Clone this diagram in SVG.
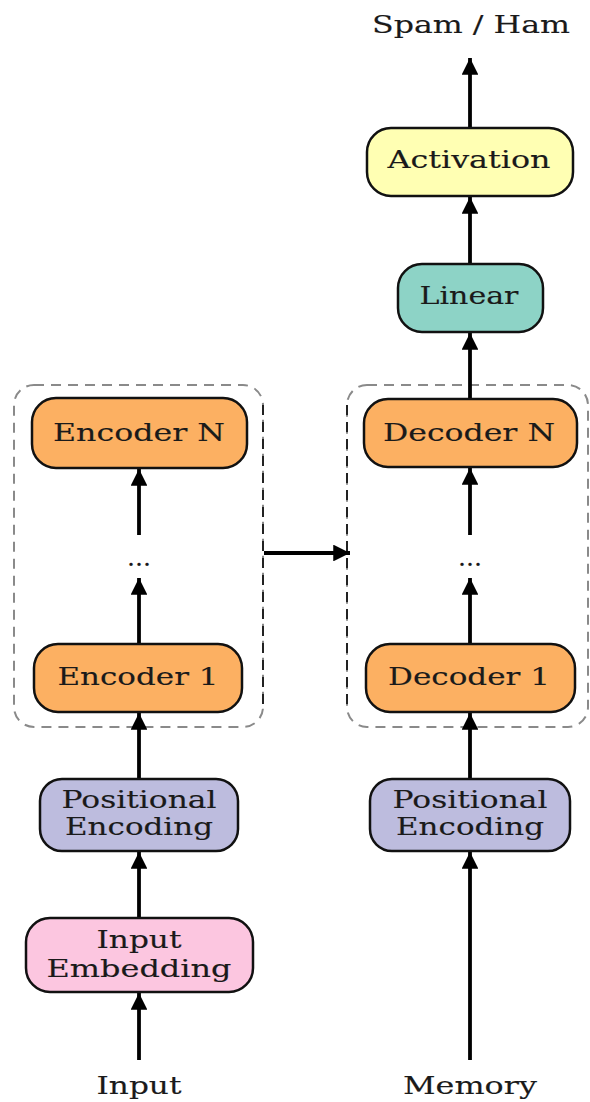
<svg xmlns="http://www.w3.org/2000/svg" width="590" height="1102" viewBox="0 0 590 1102">
<style>
.box{stroke:#111;stroke-width:2.5}
.t{font-family:"DejaVu Serif","Liberation Serif",serif;font-size:25px;fill:#1a1a1a;stroke:#1a1a1a;stroke-width:0.15;text-anchor:middle}
.e{stroke:#000;stroke-width:3.8;fill:none}
.cl{fill:none;stroke:#8a8a8a;stroke-width:2;stroke-dasharray:10 7}
.cr{stroke:#222;stroke-width:2;stroke-dasharray:10 7}
</style>
<defs>
<marker id="ah" viewBox="0 0 10 10" refX="10" refY="5" markerWidth="5.2" markerHeight="4.4" orient="auto" markerUnits="strokeWidth">
<path d="M0,0 L10,5 L0,10 z" fill="#000"/>
</marker>
</defs>
<rect width="590" height="1102" fill="#fff"/>
<g id="clusters">
<rect id="encoder-stack" class="cl" x="14" y="385" width="249" height="342" rx="20"/>
<line class="cr" x1="263" y1="405" x2="263" y2="707"/>
<rect id="decoder-stack" class="cl" x="347" y="385" width="241" height="342" rx="20"/>
<line class="cr" x1="347" y1="405" x2="347" y2="707"/>
</g>
<g id="connectors">
<line class="e" x1="139" y1="1060" x2="139" y2="993" marker-end="url(#ah)"/>
<line class="e" x1="139" y1="918" x2="139" y2="852" marker-end="url(#ah)"/>
<line class="e" x1="139" y1="779" x2="139" y2="713" marker-end="url(#ah)"/>
<line class="e" x1="139" y1="644" x2="139" y2="578" marker-end="url(#ah)"/>
<line class="e" x1="139" y1="535" x2="139" y2="469" marker-end="url(#ah)"/>
<line class="e" x1="470" y1="1060" x2="470" y2="852" marker-end="url(#ah)"/>
<line class="e" x1="470" y1="779" x2="470" y2="713" marker-end="url(#ah)"/>
<line class="e" x1="470" y1="644" x2="470" y2="578" marker-end="url(#ah)"/>
<line class="e" x1="470" y1="535" x2="470" y2="468" marker-end="url(#ah)"/>
<line class="e" x1="470" y1="400" x2="470" y2="333" marker-end="url(#ah)"/>
<line class="e" x1="470" y1="264" x2="470" y2="197" marker-end="url(#ah)"/>
<line class="e" x1="470" y1="128" x2="470" y2="58" marker-end="url(#ah)"/>
<line class="e" x1="264" y1="553" x2="350" y2="553" marker-end="url(#ah)"/>
</g>
<g id="input-embedding">
<rect class="box" x="26" y="918" width="227" height="74" rx="24" fill="#fcc6e0"/>
<text class="t" x="139" y="948" textLength="85" lengthAdjust="spacingAndGlyphs">Input</text>
<text class="t" x="139" y="977" textLength="185" lengthAdjust="spacingAndGlyphs">Embedding</text>
</g>
<g id="pos-enc-left">
<rect class="box" x="40" y="779" width="198" height="72" rx="22" fill="#bdbcde"/>
<text class="t" x="139" y="808" textLength="155" lengthAdjust="spacingAndGlyphs">Positional</text>
<text class="t" x="139" y="835" textLength="148" lengthAdjust="spacingAndGlyphs">Encoding</text>
</g>
<g id="encoder-1">
<rect class="box" x="34" y="644" width="208" height="68" rx="24" fill="#fcb062"/>
<text class="t" x="138" y="685" textLength="161" lengthAdjust="spacingAndGlyphs">Encoder 1</text>
</g>
<g id="enc-dots">
<text class="t" x="139" y="566" font-size="20" textLength="24" lengthAdjust="spacingAndGlyphs">...</text>
</g>
<g id="encoder-n">
<rect class="box" x="32" y="398" width="215" height="70" rx="24" fill="#fcb062"/>
<text class="t" x="139" y="441" textLength="172" lengthAdjust="spacingAndGlyphs">Encoder N</text>
</g>
<g id="pos-enc-right">
<rect class="box" x="370" y="779" width="200" height="72" rx="22" fill="#bdbcde"/>
<text class="t" x="470" y="808" textLength="155" lengthAdjust="spacingAndGlyphs">Positional</text>
<text class="t" x="470" y="835" textLength="148" lengthAdjust="spacingAndGlyphs">Encoding</text>
</g>
<g id="decoder-1">
<rect class="box" x="366" y="644" width="209" height="68" rx="24" fill="#fcb062"/>
<text class="t" x="469" y="685" textLength="162" lengthAdjust="spacingAndGlyphs">Decoder 1</text>
</g>
<g id="dec-dots">
<text class="t" x="470" y="566" font-size="20" textLength="24" lengthAdjust="spacingAndGlyphs">...</text>
</g>
<g id="decoder-n">
<rect class="box" x="364" y="399" width="213" height="68" rx="24" fill="#fcb062"/>
<text class="t" x="469" y="441" textLength="172" lengthAdjust="spacingAndGlyphs">Decoder N</text>
</g>
<g id="linear">
<rect class="box" x="398" y="264" width="145" height="68" rx="24" fill="#8dd3c6"/>
<text class="t" x="469" y="304" textLength="99" lengthAdjust="spacingAndGlyphs">Linear</text>
</g>
<g id="activation">
<rect class="box" x="367" y="128" width="206" height="68" rx="24" fill="#ffffb3"/>
<text class="t" x="469" y="168" textLength="163" lengthAdjust="spacingAndGlyphs">Activation</text>
</g>
<g id="labels">
<text class="t" x="471" y="33" textLength="198" lengthAdjust="spacingAndGlyphs">Spam / Ham</text>
<text class="t" x="139" y="1094" textLength="85" lengthAdjust="spacingAndGlyphs">Input</text>
<text class="t" x="470" y="1094" textLength="134" lengthAdjust="spacingAndGlyphs">Memory</text>
</g>
</svg>
